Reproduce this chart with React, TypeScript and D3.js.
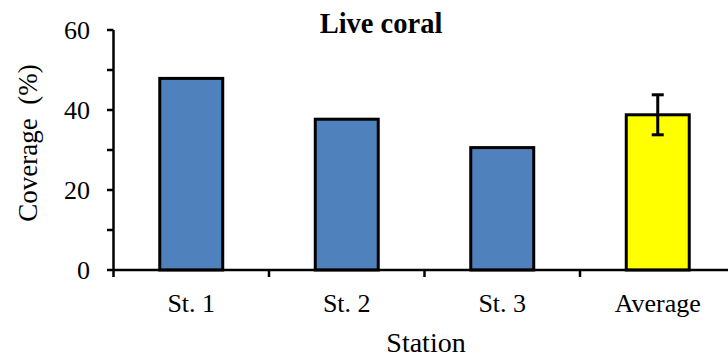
import React from 'react';
import * as d3 from 'd3';

const stations = ['St. 1', 'St. 2', 'St. 3', 'Average'];
const coverage = [47.9, 37.7, 30.6, 38.8];
const errors = [0, 0, 0, 5.0];
const barColors = ['#4f81bd', '#4f81bd', '#4f81bd', '#ffff00'];
const majorTicks = [0, 20, 40, 60];
const minorTicks = [10, 30, 50];

const W = 728;
const H = 359;
const FONT = '"Liberation Serif", "Times New Roman", serif';

const App = () => {
  const x = d3.scaleBand().domain(stations).range([113.5, 735.5]).padding(0);
  const y = d3.scaleLinear().domain([0, 60]).range([270, 30]);
  const barW = x.bandwidth() * 0.405;
  const boundaries = d3.range(stations.length + 1).map(i => 113.5 + i * x.step());

  return (
    <svg width={W} height={H} style={{ position: 'absolute', left: 0, top: 0 }} fontFamily={FONT}>
      <rect width={W} height={H} fill="#fff" />
      <text x={381} y={33} textAnchor="middle" fontWeight="bold" fontSize={28.5}>Live coral</text>

      {stations.map((s, i) => {
        const cx = x(s)! + x.bandwidth() / 2;
        return (
          <g key={s}>
            <rect
              x={cx - barW / 2}
              y={y(coverage[i])}
              width={barW}
              height={y(0) - y(coverage[i])}
              fill={barColors[i]}
              stroke="#000"
              strokeWidth={3}
            />
            {errors[i] > 0 && (
              <g stroke="#000" strokeWidth={3}>
                <line x1={cx} x2={cx} y1={y(coverage[i] + errors[i])} y2={y(coverage[i] - errors[i])} />
                <line x1={cx - 6} x2={cx + 6} y1={y(coverage[i] + errors[i])} y2={y(coverage[i] + errors[i])} />
                <line x1={cx - 6} x2={cx + 6} y1={y(coverage[i] - errors[i])} y2={y(coverage[i] - errors[i])} />
              </g>
            )}
            <text x={cx} y={312} textAnchor="middle" fontSize={26}>{s}</text>
          </g>
        );
      })}

      <g stroke="#000" strokeWidth={2.5}>
        <line x1={113.5} x2={113.5} y1={y(60)} y2={y(0)} />
        <line x1={113.5} x2={W} y1={y(0)} y2={y(0)} />
        {majorTicks.concat(minorTicks).map(t => (
          <line key={t} x1={107} x2={113.5} y1={y(t)} y2={y(t)} />
        ))}
        {boundaries.map(b => (
          <line key={b} x1={b} x2={b} y1={y(0)} y2={y(0) + 7} />
        ))}
      </g>

      {majorTicks.map(t => (
        <text key={t} x={90} y={y(t) + 8.5} textAnchor="end" fontSize={26}>{t}</text>
      ))}

      <text transform="translate(37,143) rotate(-90)" textAnchor="middle" fontSize={27}>{'Coverage\u00a0 (%)'}</text>
      <text x={426} y={352} textAnchor="middle" fontSize={28}>Station</text>
    </svg>
  );
};

export default App;
